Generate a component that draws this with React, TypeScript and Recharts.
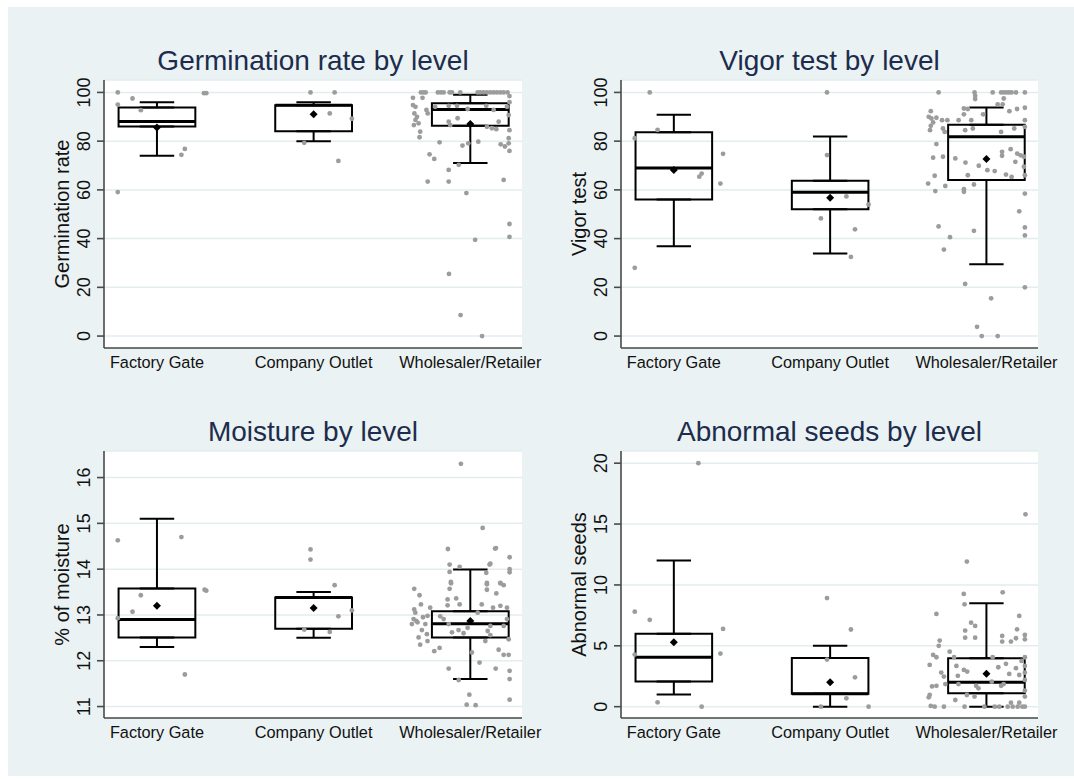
import React from 'react';
import {
  ScatterChart,
  Scatter,
  XAxis,
  YAxis,
  CartesianGrid,
  ReferenceArea,
  ReferenceLine,
} from 'recharts';

type Pair = [number, number];

// ---------- categories ----------
const categories = ['Factory Gate', 'Company Outlet', 'Wholesaler/Retailer'];

// ---------- Germination rate ----------
const germTicks = [0, 20, 40, 60, 80, 100];
const germQ1 = [86.0, 84.1, 86.3];
const germMedian = [88.1, 94.7, 93.0];
const germQ3 = [93.8, 94.7, 95.6];
const germLow = [74, 80, 71];
const germHigh = [96, 96, 99];
const germMean = [85.6, 91.0, 87.0];
const germFG: Pair[] = [
  [-0.25, 100], [-0.25, 95], [-0.156, 97.5], [-0.103, 92.7], [-0.25, 59.1],
  [0.156, 74.4], [0.178, 76.8], [0.3, 99.7], [0.315, 99.7],
];
const germCO: Pair[] = [
  [-0.02, 100], [0.134, 100], [0.103, 91.4], [0.244, 89.2], [-0.06, 79.3], [0.158, 71.9],
];
const germWS: Pair[] = [
  [-0.315, 100], [-0.298, 100], [-0.285, 100], [-0.207, 100], [-0.188, 100], [-0.17, 100],
  [-0.132, 100], [-0.117, 100], [-0.064, 100], [0.047, 100], [0.064, 100], [0.085, 100],
  [0.106, 100], [0.128, 100], [0.149, 100], [0.17, 100], [0.192, 100], [0.213, 100], [0.238, 100],
  [-0.366, 97.8], [-0.305, 97.8], [-0.366, 94.8], [-0.35, 94.1], [-0.357, 91.4], [-0.34, 90],
  [-0.35, 88.7], [-0.36, 86.6], [-0.33, 87.3], [-0.28, 92.8], [-0.272, 91.4], [-0.32, 83.9],
  [-0.324, 81.6], [-0.224, 94.1], [-0.138, 94.5], [-0.085, 94.5], [-0.017, 93.2], [0.102, 94.5],
  [0.149, 92.8], [0.234, 94.1], [0.245, 90.7], [-0.081, 89.4], [-0.138, 88], [-0.128, 86.6],
  [0.106, 85.9], [0.138, 85.3], [0.166, 84.9], [0.181, 88], [-0.196, 79.5], [-0.05, 78.2],
  [-0.013, 79.1], [0.051, 79.8], [0.194, 78.7], [0.221, 77.8], [0.245, 79.1], [0.245, 81.2],
  [-0.26, 74.6], [-0.23, 72.7], [-0.074, 70.3], [-0.138, 68.2], [-0.272, 63.4], [-0.138, 63.4],
  [0.213, 64.1], [-0.025, 58.7], [-0.136, 25.5], [-0.062, 8.6], [0.075, 0], [0.031, 39.5],
  [0.25, 46], [0.25, 40.7], [0.25, 98.5], [0.25, 96], [0.25, 84.5], [0.25, 76],
];

// ---------- Vigor test ----------
const vigTicks = [0, 20, 40, 60, 80, 100];
const vigQ1 = [56.1, 52.1, 64.1];
const vigMedian = [69, 59, 81.8];
const vigQ3 = [83.7, 63.7, 86.7];
const vigLow = [36.9, 33.9, 29.5];
const vigHigh = [90.8, 81.9, 93.8];
const vigMean = [68.2, 56.8, 72.7];
const vigFG: Pair[] = [
  [-0.154, 100], [-0.25, 81.2], [-0.104, 84.6], [0.315, 74.8], [0.178, 66.7],
  [0.163, 65.4], [0.298, 62.6], [-0.25, 28],
];
const vigCO: Pair[] = [
  [-0.02, 100], [-0.02, 74.3], [0.104, 57.3], [0.246, 54], [-0.059, 48.3], [0.159, 43.8], [0.133, 32.5],
];
const vigWS: Pair[] = [
  [-0.306, 100], [-0.076, 100], [0.04, 100], [0.094, 100], [0.111, 100], [0.128, 100],
  [0.145, 100], [0.161, 100], [0.189, 100], [0.246, 100],
  [-0.072, 98.6], [-0.072, 97.3], [0.072, 95.1], [0.104, 95.1], [0.111, 97.5],
  [-0.144, 93.4], [-0.119, 93.2], [0.147, 92.3], [0.196, 93.2], [0.246, 93.7], [-0.356, 92.3],
  [-0.369, 90], [-0.352, 89.3], [-0.341, 87.7], [-0.356, 86.3], [-0.32, 89.6], [-0.284, 88.6],
  [-0.25, 88.6], [-0.178, 88.6], [-0.097, 88.6], [-0.021, 91], [-0.144, 91],
  [-0.361, 84.5], [-0.278, 85.2], [-0.267, 83.8], [-0.136, 84.5], [-0.087, 85.2], [0.094, 83.8],
  [0.178, 85.2], [0.246, 88.6], [0.246, 85.9], [-0.32, 78.8], [-0.341, 73.2], [-0.278, 73.6],
  [-0.199, 72.9], [-0.134, 71.2], [-0.049, 69.9], [0.006, 68.1], [0.053, 67.7], [0.1, 75.6],
  [0.1, 74], [0.155, 76.7], [0.197, 74.9], [0.219, 74.2], [0.24, 73.6], [0.185, 71.5],
  [0.24, 69.5], [0.125, 66.3], [0.161, 65.3], [0.246, 66], [-0.331, 65.8], [-0.373, 62.6],
  [-0.327, 59.5], [-0.263, 61.6], [-0.144, 60.3], [-0.144, 59.2], [-0.08, 62.2], [-0.119, 66],
  [0.246, 58.5], [0.21, 51.2], [-0.306, 45], [-0.08, 43.2], [0.246, 44.6], [0.246, 41.3],
  [-0.233, 40.6], [-0.272, 35.5], [-0.136, 21.4], [0.246, 20], [0.03, 15.5], [-0.06, 3.8],
  [-0.03, 0], [0.072, 0],
];

// ---------- Moisture ----------
const moistTicks = [11, 12, 13, 14, 15, 16];
const moistQ1 = [12.51, 12.7, 12.51];
const moistMedian = [12.9, 13.38, 12.81];
const moistQ3 = [13.58, 13.38, 13.08];
const moistLow = [12.3, 12.5, 11.6];
const moistHigh = [15.1, 13.5, 13.99];
const moistMean = [13.2, 13.15, 12.87];
const moistFG: Pair[] = [
  [-0.25, 14.63], [0.156, 14.7], [-0.103, 13.43], [-0.156, 13.07], [-0.25, 12.93],
  [0.304, 13.55], [0.315, 13.53], [0.178, 11.7],
];
const moistCO: Pair[] = [
  [-0.02, 14.43], [-0.02, 14.21], [0.134, 13.65], [0.244, 13.1], [0.158, 12.97],
  [-0.06, 12.68], [0.103, 12.63],
];
const moistWS: Pair[] = [
  [-0.06, 16.3], [0.079, 14.9], [-0.143, 14.44], [0.164, 14.46], [0.251, 14.26], [-0.132, 14.1],
  [-0.068, 14.05], [0.128, 14.12], [-0.132, 13.94], [0.102, 13.92], [0.251, 14.0], [0.251, 13.93],
  [-0.124, 13.72], [0.106, 13.7], [0.192, 13.7], [-0.358, 13.57], [-0.324, 13.43], [-0.315, 13.23],
  [-0.358, 13.12], [-0.351, 13.05], [-0.362, 12.91], [-0.373, 12.8], [-0.345, 12.87], [-0.337, 12.84],
  [-0.302, 12.95], [-0.287, 12.8], [-0.309, 12.67], [-0.277, 12.58], [-0.33, 12.51], [-0.273, 12.43],
  [-0.32, 12.35], [-0.23, 12.21], [-0.196, 12.28], [-0.256, 13.16], [-0.273, 12.98], [-0.123, 13.69],
  [-0.132, 13.57], [-0.145, 13.34], [-0.145, 13.21], [-0.09, 13.36], [-0.068, 13.23], [-0.192, 12.97],
  [-0.17, 12.91], [-0.138, 12.8], [-0.117, 12.62], [-0.075, 12.67], [-0.043, 12.6], [-0.017, 12.72],
  [0.106, 13.67], [0.106, 13.55], [0.166, 13.47], [0.192, 13.69], [0.213, 13.65], [0.073, 13.23],
  [0.145, 13.16], [0.192, 13.2], [0.234, 13.16], [0.047, 13.05], [0.128, 12.76], [0.111, 12.65],
  [0.128, 12.56], [0.096, 12.43], [0.213, 12.76], [0.234, 12.91], [0.245, 12.47], [0.181, 12.24],
  [0.213, 12.13], [0.245, 12.13], [0.01, 12.18], [0.059, 11.96], [0.162, 11.83], [-0.138, 11.83],
  [-0.074, 11.58], [0.251, 11.78], [0.251, 11.6], [-0.006, 11.26], [-0.023, 11.04], [0.034, 11.03],
  [0.251, 11.15], [0.158, 14.45], [0.123, 14.1],
];

// ---------- Abnormal seeds ----------
const abnTicks = [0, 5, 10, 15, 20];
const abnQ1 = [2.06, 1.07, 1.1];
const abnMedian = [4.06, 1.07, 2.0];
const abnQ3 = [5.98, 4.0, 3.98];
const abnLow = [1.0, 0, 0];
const abnHigh = [12.0, 5.0, 8.5];
const abnMean = [5.3, 2.0, 2.7];
const abnFG: Pair[] = [
  [0.157, 20], [-0.25, 7.8], [-0.154, 7.13], [0.315, 6.39], [-0.25, 4.28], [0.298, 4.36],
  [-0.104, 0.36], [0.178, 0],
];
const abnCO: Pair[] = [
  [-0.02, 8.92], [0.133, 6.34], [-0.02, 3.87], [0.159, 2.41], [0.104, 0.69], [-0.059, 0], [0.246, 0],
];
const abnWS: Pair[] = [
  [-0.125, 11.92], [-0.145, 9.26], [0.104, 9.39], [-0.14, 8.41], [-0.32, 7.62], [0.21, 7.45],
  [-0.098, 6.9], [-0.072, 6.63], [-0.136, 6.25], [-0.136, 5.67], [-0.072, 5.67], [0.196, 6.35],
  [0.101, 5.81], [0.101, 5.35], [0.157, 5.35], [0.189, 5.62], [0.246, 5.89], [0.246, 5.53],
  [-0.299, 5.43], [-0.305, 5.0], [-0.341, 4.25], [-0.32, 4.06], [-0.363, 3.43], [-0.235, 4.52],
  [-0.207, 4.06], [-0.289, 2.8], [-0.272, 2.47], [-0.263, 1.86], [-0.348, 1.66], [-0.32, 1.71],
  [-0.363, 0.96], [-0.369, 0.77], [-0.356, 0.06], [-0.331, 0], [-0.272, 0], [-0.192, 3.35],
  [-0.144, 3.02], [-0.183, 2.53], [-0.123, 2.88], [-0.179, 1.86], [-0.066, 1.71], [-0.051, 1.51],
  [-0.125, 0.96], [-0.076, 0.83], [-0.199, 0.55], [-0.14, 0], [-0.013, 0], [0.04, 4.06],
  [0.076, 3.24], [0.125, 3.52], [0.189, 3.16], [0.146, 2.69], [0.21, 2.6], [0.094, 1.71],
  [0.11, 1.86], [0.034, 2.05], [0.225, 3.76], [0.246, 4.06], [0.246, 3.35], [0.246, 2.8],
  [0.246, 2.2], [0.246, 1.32], [0.246, 0.83], [0.157, 0.33], [0.21, 0.33], [0.053, 0],
  [0.083, 0], [0.136, 0], [0.168, 0], [0.2, 0], [0.23, 0], [0.246, 0], [0.25, 15.8],
];

// ---------- styling ----------
const FONT = '"Liberation Sans", Arial, Helvetica, sans-serif';
const BG = '#eaf2f3';
const TITLE_COLOR = '#1d2c4c';
const TEXT_COLOR = '#111111';
const AXIS_COLOR = '#4a4a4a';
const GRID_COLOR = '#e3edee';
const DOT_COLOR = '#9c9c9c';
const BOX_HALF = 0.245;
const CAP_HALF = 0.11;
const Y_AXIS_W = 60;
const X_AXIS_H = 30;
const X_DOMAIN: [number, number] = [0.662, 3.33];

interface PanelSpec {
  title: string;
  yLabel: string;
  domain: [number, number];
  ticks: number[];
  q1: number[];
  median: number[];
  q3: number[];
  low: number[];
  high: number[];
  mean: number[];
  dots: Pair[][];
  left: number;
  top: number;
  width: number;
  height: number;
  margin: { top: number; right: number; bottom: number; left: number };
}

const DotShape = (props: any) => {
  const { cx, cy } = props;
  if (cx == null || cy == null) return null;
  return <circle cx={cx} cy={cy} r={2.4} fill={DOT_COLOR} />;
};

const DiamondShape = (props: any) => {
  const { cx, cy } = props;
  if (cx == null || cy == null) return null;
  const r = 4;
  return (
    <path
      d={`M${cx},${cy - r}L${cx + r},${cy}L${cx},${cy + r}L${cx - r},${cy}Z`}
      fill="#000"
    />
  );
};

function Panel(p: PanelSpec) {
  const plotLeft = p.margin.left + Y_AXIS_W;
  const plotRight = p.width - p.margin.right;
  const plotTop = p.margin.top;
  const plotBottom = p.height - p.margin.bottom - X_AXIS_H;

  const dotData = p.dots.flatMap((arr, i) => arr.map(([o, v]) => ({ x: i + 1 + o, y: v })));
  const meanData = p.mean.map((m, i) => ({ x: i + 1, y: m }));

  const YTick = (tp: any) => {
    const { y, payload } = tp;
    const bx = plotLeft - 14;
    return (
      <text
        x={bx}
        y={y}
        transform={`rotate(-90 ${bx} ${y})`}
        textAnchor="middle"
        fontSize={18}
        fontFamily={FONT}
        fill={TEXT_COLOR}
      >
        {payload.value}
      </text>
    );
  };

  const XTick = (tp: any) => {
    const { x, payload } = tp;
    return (
      <text
        x={x}
        y={plotBottom + 20}
        textAnchor="middle"
        fontSize={16.3}
        fontFamily={FONT}
        fill={TEXT_COLOR}
      >
        {categories[Math.round(payload.value) - 1]}
      </text>
    );
  };

  const YLabel = () => {
    const cx = plotLeft - 35;
    const cy = (plotTop + plotBottom) / 2;
    return (
      <text
        x={cx}
        y={cy}
        transform={`rotate(-90 ${cx} ${cy})`}
        textAnchor="middle"
        fontSize={20}
        fontFamily={FONT}
        fill={TEXT_COLOR}
      >
        {p.yLabel}
      </text>
    );
  };

  const lines: React.ReactNode[] = [];
  categories.forEach((_, i) => {
    const c = i + 1;
    lines.push(
      <ReferenceArea
        key={`box${i}`}
        x1={c - BOX_HALF}
        x2={c + BOX_HALF}
        y1={p.q1[i]}
        y2={p.q3[i]}
        fill="none"
        fillOpacity={0}
        stroke="#000"
        strokeWidth={2}
        ifOverflow="visible"
      />
    );
    const segs: Array<[number, number, number, number, number]> = [
      [c, p.q3[i], c, p.high[i], 2],
      [c, p.q1[i], c, p.low[i], 2],
      [c - CAP_HALF, p.high[i], c + CAP_HALF, p.high[i], 2],
      [c - CAP_HALF, p.q3[i], c + CAP_HALF, p.q3[i], 2],
      [c - CAP_HALF, p.low[i], c + CAP_HALF, p.low[i], 2],
      [c - CAP_HALF, p.q1[i], c + CAP_HALF, p.q1[i], 2],
      [c - BOX_HALF, p.median[i], c + BOX_HALF, p.median[i], 3],
    ];
    segs.forEach(([x1, y1, x2, y2, w], k) => {
      lines.push(
        <ReferenceLine
          key={`seg${i}-${k}`}
          segment={[
            { x: x1, y: y1 },
            { x: x2, y: y2 },
          ]}
          stroke="#000"
          strokeWidth={w}
          ifOverflow="visible"
        />
      );
    });
  });

  return (
    <div style={{ position: 'absolute', left: p.left, top: p.top, width: p.width, height: p.height }}>
      <div
        style={{
          position: 'absolute',
          left: plotLeft - 40,
          width: plotRight - plotLeft + 80,
          top: plotTop - 33.5,
          height: 28,
          lineHeight: '28px',
          fontSize: 28,
          fontFamily: FONT,
          color: TITLE_COLOR,
          textAlign: 'center',
          whiteSpace: 'nowrap',
        }}
      >
        {p.title}
      </div>
      <ScatterChart width={p.width} height={p.height} margin={p.margin}>
        <CartesianGrid vertical={false} fill="#ffffff" stroke={GRID_COLOR} strokeWidth={1.5} />
        <XAxis
          type="number"
          dataKey="x"
          domain={X_DOMAIN}
          ticks={[1, 2, 3]}
          allowDataOverflow
          height={X_AXIS_H}
          tickLine={false}
          axisLine={{ stroke: AXIS_COLOR, strokeWidth: 1.6 }}
          tick={<XTick />}
          interval={0}
        />
        <YAxis
          type="number"
          dataKey="y"
          domain={p.domain}
          ticks={p.ticks}
          allowDataOverflow
          width={Y_AXIS_W}
          tickSize={7}
          tickMargin={1}
          tickLine={{ stroke: AXIS_COLOR, strokeWidth: 1.6 }}
          axisLine={{ stroke: AXIS_COLOR, strokeWidth: 1.6 }}
          tick={<YTick />}
          interval={0}
          label={{ content: <YLabel /> } as any}
        />
        <Scatter data={dotData} shape={<DotShape />} isAnimationActive={false} />
        {lines}
        <Scatter data={meanData} shape={<DiamondShape />} isAnimationActive={false} />
      </ScatterChart>
    </div>
  );
}

const panels: PanelSpec[] = [
  {
    title: 'Germination rate by level',
    yLabel: 'Germination rate',
    domain: [-4.9, 105.1],
    ticks: germTicks,
    q1: germQ1, median: germMedian, q3: germQ3, low: germLow, high: germHigh, mean: germMean,
    dots: [germFG, germCO, germWS],
    left: 0, top: 0, width: 552, height: 388,
    margin: { top: 73, right: 38, bottom: 17, left: 36 },
  },
  {
    title: 'Vigor test by level',
    yLabel: 'Vigor test',
    domain: [-4.9, 105.1],
    ticks: vigTicks,
    q1: vigQ1, median: vigMedian, q3: vigQ3, low: vigLow, high: vigHigh, mean: vigMean,
    dots: [vigFG, vigCO, vigWS],
    left: 552, top: 0, width: 514, height: 388,
    margin: { top: 73, right: 36, bottom: 17, left: 1 },
  },
  {
    title: 'Moisture by level',
    yLabel: '% of moisture',
    domain: [10.75, 16.58],
    ticks: moistTicks,
    q1: moistQ1, median: moistMedian, q3: moistQ3, low: moistLow, high: moistHigh, mean: moistMean,
    dots: [moistFG, moistCO, moistWS],
    left: 0, top: 388, width: 552, height: 381,
    margin: { top: 56, right: 38, bottom: 28, left: 36 },
  },
  {
    title: 'Abnormal seeds by level',
    yLabel: 'Abnormal seeds',
    domain: [-0.93, 21.0],
    ticks: abnTicks,
    q1: abnQ1, median: abnMedian, q3: abnQ3, low: abnLow, high: abnHigh, mean: abnMean,
    dots: [abnFG, abnCO, abnWS],
    left: 552, top: 388, width: 514, height: 381,
    margin: { top: 56, right: 36, bottom: 28, left: 1 },
  },
];

export default function App() {
  return (
    <div
      style={{
        position: 'absolute',
        left: 8,
        top: 7,
        width: 1066,
        height: 769,
        background: BG,
        overflow: 'hidden',
      }}
    >
      {panels.map((p) => (
        <Panel key={p.title} {...p} />
      ))}
    </div>
  );
}
